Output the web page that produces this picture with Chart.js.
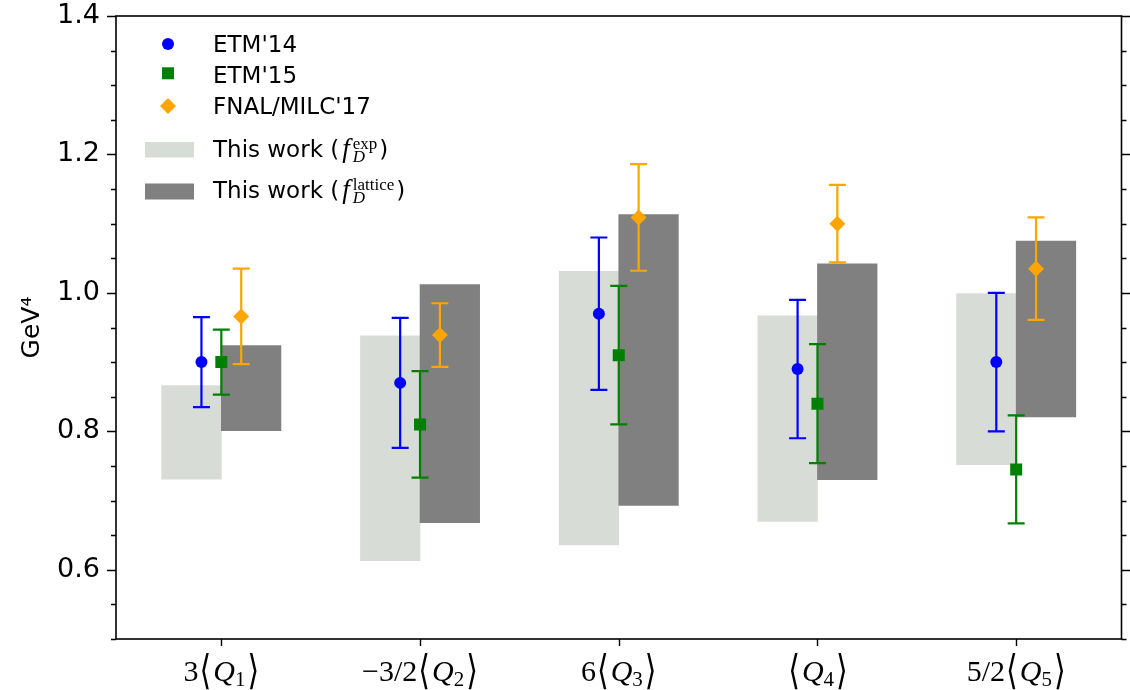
<!DOCTYPE html>
<html><head><meta charset="utf-8">
<script src="https://cdn.jsdelivr.net/npm/chart.js@4/dist/chart.umd.min.js"></script>
<style>html,body{margin:0;padding:0;background:#fff;}#wrap{width:1130px;height:690px;}</style>
</head><body><div id="wrap"><canvas id="c" width="1130" height="690"></canvas></div>
<script>
// ---- data ----
const categories = ['3⟨Q1⟩', '−3/2⟨Q2⟩', '6⟨Q3⟩', '⟨Q4⟩', '5/2⟨Q5⟩'];
const catPrefix = ['3', '−3/2', '6', '', '5/2'];
const catIndex = ['1', '2', '3', '4', '5'];

const etm14 = [0.900, 0.870, 0.970, 0.890, 0.900];
const etm14Err = [0.065, 0.094, 0.110, 0.100, 0.100];
const etm15 = [0.900, 0.810, 0.910, 0.840, 0.745];
const etm15Err = [0.047, 0.077, 0.100, 0.086, 0.078];
const fnal = [0.966, 0.939, 1.109, 1.100, 1.035];
const fnalErr = [0.069, 0.046, 0.077, 0.056, 0.074];

const expLow = [0.731, 0.613, 0.636, 0.670, 0.752];
const expHigh = [0.866, 0.938, 1.031, 0.967, 0.999];
const latLow = [0.801, 0.668, 0.693, 0.730, 0.821];
const latHigh = [0.924, 1.012, 1.113, 1.042, 1.075];

const yMajorTicks = [0.6, 0.8, 1.0, 1.2, 1.4];
const yMinorStep = 0.05;

// ---- chart ----
const BLUE = '#0000ff', GREEN = '#008000', ORANGE = '#ffa500';
const LIGHT = '#d8dcd6', DARK = '#808080';
const SERIF = '"Liberation Serif", "DejaVu Serif", serif';

function errorBars(ds, chart) {
  const xs = chart.scales.x, ys = chart.scales.y, ctx = chart.ctx;
  ctx.save();
  ctx.strokeStyle = ds.errColor;
  ctx.lineWidth = 2.2;
  ds.data.forEach((p, i) => {
    const px = xs.getPixelForValue(p.x);
    const yt = ys.getPixelForValue(p.y + ds.errors[i]);
    const yb = ys.getPixelForValue(p.y - ds.errors[i]);
    ctx.beginPath();
    ctx.moveTo(px, yt); ctx.lineTo(px, yb);
    ctx.moveTo(px - 8.5, yt); ctx.lineTo(px + 8.5, yt);
    ctx.moveTo(px - 8.5, yb); ctx.lineTo(px + 8.5, yb);
    ctx.stroke();
  });
  ctx.restore();
}

function drawMathLabel(ctx, cx, baseline, prefix, idx) {
  const parts = [];
  if (prefix) parts.push({t: prefix, f: '30px ' + SERIF, dy: 0});
  parts.push({t: '⟨', f: '30px "DejaVu Sans"', dy: 0, sy: 1.35, pad: 1});
  parts.push({t: 'Q', f: 'italic 30px ' + SERIF, dy: 0, pad: 2});
  parts.push({t: idx, f: '21px ' + SERIF, dy: 5});
  parts.push({t: '⟩', f: '30px "DejaVu Sans"', dy: 0, sy: 1.35, pad: 2});
  let total = 0;
  parts.forEach(p => { ctx.font = p.f; p.w = ctx.measureText(p.t).width; total += p.w + (p.pad || 0); });
  let x = cx - total / 2;
  ctx.textAlign = 'left'; ctx.textBaseline = 'alphabetic';
  parts.forEach(p => {
    x += (p.pad || 0); ctx.font = p.f;
    if (p.sy) {
      ctx.save();
      ctx.translate(x, baseline + 3);
      ctx.scale(1, p.sy);
      ctx.fillText(p.t, 0, 0);
      ctx.restore();
    } else {
      ctx.fillText(p.t, x, baseline + p.dy);
    }
    x += p.w;
  });
}

function drawLegendMath(ctx, x, baseline, sup) {
  ctx.font = '23px "DejaVu Sans"';
  ctx.fillText('(', x, baseline);
  x += ctx.measureText('(').width + 3;
  ctx.font = 'italic 27px ' + SERIF;
  ctx.fillText('f', x, baseline);
  x += ctx.measureText('f').width + 3;
  ctx.font = 'italic 17px ' + SERIF;
  ctx.fillText('D', x, baseline + 5);
  const wD = ctx.measureText('D').width;
  ctx.font = '17px ' + SERIF;
  ctx.fillText(sup, x, baseline - 8);
  const wS = ctx.measureText(sup).width;
  x += Math.max(wD, wS) + 2;
  ctx.font = '23px "DejaVu Sans"';
  ctx.fillText(')', x, baseline);
}

const customPlugin = {
  id: 'custom',
  beforeDatasetDraw(chart, args) {
    const ds = chart.data.datasets[args.index];
    if (ds.errors) errorBars(ds, chart);
  },
  afterDraw(chart) {
    const ctx = chart.ctx, ca = chart.chartArea;
    const xs = chart.scales.x, ys = chart.scales.y;
    ctx.save();
    ctx.strokeStyle = '#000';
    ctx.lineWidth = 1.4;
    ctx.beginPath();
    for (let v = 0.5; v <= 1.4001; v += yMinorStep) {
      const vv = Math.round(v * 100) / 100;
      const major = yMajorTicks.some(m => Math.abs(m - vv) < 1e-6);
      const len = major ? 9 : 5;
      const py = Math.round(ys.getPixelForValue(vv)) + 0.5;
      ctx.moveTo(ca.left - len, py); ctx.lineTo(ca.left, py);
      ctx.moveTo(ca.right, py); ctx.lineTo(ca.right + len, py);
    }
    categories.forEach((c, i) => {
      const px = Math.round(xs.getPixelForValue(i)) + 0.5;
      ctx.moveTo(px, ca.bottom); ctx.lineTo(px, ca.bottom + 7);
    });
    ctx.stroke();
    ctx.lineWidth = 1.6;
    ctx.strokeRect(ca.left, ca.top, ca.right - ca.left, ca.bottom - ca.top);
    ctx.fillStyle = '#000';
    categories.forEach((c, i) => {
      drawMathLabel(ctx, xs.getPixelForValue(i), 681, catPrefix[i], catIndex[i]);
    });
    // legend
    const mx = 168;
    ctx.fillStyle = BLUE;
    ctx.beginPath(); ctx.arc(mx, 44, 6, 0, Math.PI * 2); ctx.fill();
    ctx.fillStyle = GREEN;
    ctx.fillRect(mx - 6, 67.3, 12, 12);
    ctx.fillStyle = ORANGE;
    ctx.beginPath(); ctx.moveTo(mx, 98); ctx.lineTo(mx + 8, 106); ctx.lineTo(mx, 114); ctx.lineTo(mx - 8, 106); ctx.closePath(); ctx.fill();
    ctx.fillStyle = LIGHT; ctx.fillRect(145, 142, 49, 15.5);
    ctx.fillStyle = DARK; ctx.fillRect(145, 183.5, 49, 16);
    ctx.fillStyle = '#000';
    ctx.textAlign = 'left'; ctx.textBaseline = 'alphabetic';
    ctx.font = '23px "DejaVu Sans"';
    ctx.fillText("ETM'14", 213, 52.3);
    ctx.fillText("ETM'15", 213, 83.3);
    ctx.fillText("FNAL/MILC'17", 213, 114.3);
    ctx.fillText('This work ', 213, 157.3);
    let w = ctx.measureText('This work ').width;
    drawLegendMath(ctx, 213 + w, 157.3, 'exp');
    ctx.font = '23px "DejaVu Sans"';
    ctx.fillText('This work ', 213, 197.7);
    drawLegendMath(ctx, 213 + w, 197.7, 'lattice');
    ctx.restore();
  }
};

new Chart(document.getElementById('c'), {
  type: 'bar',
  data: {
    datasets: [
      {type: 'bar', label: 'This work (f_D^exp)', data: categories.map((c, i) => ({x: i - 0.15, y: [expLow[i], expHigh[i]]})),
       backgroundColor: LIGHT, borderWidth: 0, grouped: false, barPercentage: 1, categoryPercentage: 1, order: 10},
      {type: 'bar', label: 'This work (f_D^lattice)', data: categories.map((c, i) => ({x: i + 0.15, y: [latLow[i], latHigh[i]]})),
       backgroundColor: DARK, borderWidth: 0, grouped: false, barPercentage: 1, categoryPercentage: 1, order: 9},
      {type: 'scatter', label: "ETM'14", data: etm14.map((v, i) => ({x: i - 0.1, y: v})), errors: etm14Err, errColor: BLUE,
       pointStyle: 'circle', pointRadius: 6, backgroundColor: BLUE, borderWidth: 0, order: 3},
      {type: 'scatter', label: "ETM'15", data: etm15.map((v, i) => ({x: i, y: v})), errors: etm15Err, errColor: GREEN,
       pointStyle: 'rect', pointRadius: 8.5, backgroundColor: GREEN, borderWidth: 0, order: 2},
      {type: 'scatter', label: "FNAL/MILC'17", data: fnal.map((v, i) => ({x: i + 0.1, y: v})), errors: fnalErr, errColor: ORANGE,
       pointStyle: 'rectRot', pointRadius: 8, backgroundColor: ORANGE, borderWidth: 0, order: 1}
    ]
  },
  options: {
    responsive: false, animation: false, devicePixelRatio: 1,
    layout: {padding: {left: 0, right: 5, top: 16, bottom: 0}},
    plugins: {legend: {display: false}, tooltip: {enabled: false}},
    scales: {
      x: {type: 'linear', offset: false, min: -0.53, max: 4.53, grid: {display: false, offset: false}, border: {display: false},
          ticks: {display: false},
          afterBuildTicks(s) { s.ticks = categories.map((c, i) => ({value: i})); },
          afterFit(s) { s.height = 51; s.paddingLeft = 0; s.paddingRight = 0; }},
      y: {type: 'linear', min: 0.5, max: 1.4, grid: {display: false, drawTicks: true, tickLength: 9}, border: {display: false},
          ticks: {padding: 7, color: '#000', font: {family: 'DejaVu Sans', size: 27}, callback: v => v.toFixed(1)},
          afterBuildTicks(s) { s.ticks = yMajorTicks.map(v => ({value: v})); },
          afterFit(s) { s.width = 116; s.paddingTop = 0; s.paddingBottom = 0; },
          title: {display: true, text: 'GeV⁴', color: '#000', font: {family: 'DejaVu Sans', size: 25}, padding: {top: 17, bottom: 0}}}
    }
  },
  plugins: [customPlugin]
});
</script></body></html>
